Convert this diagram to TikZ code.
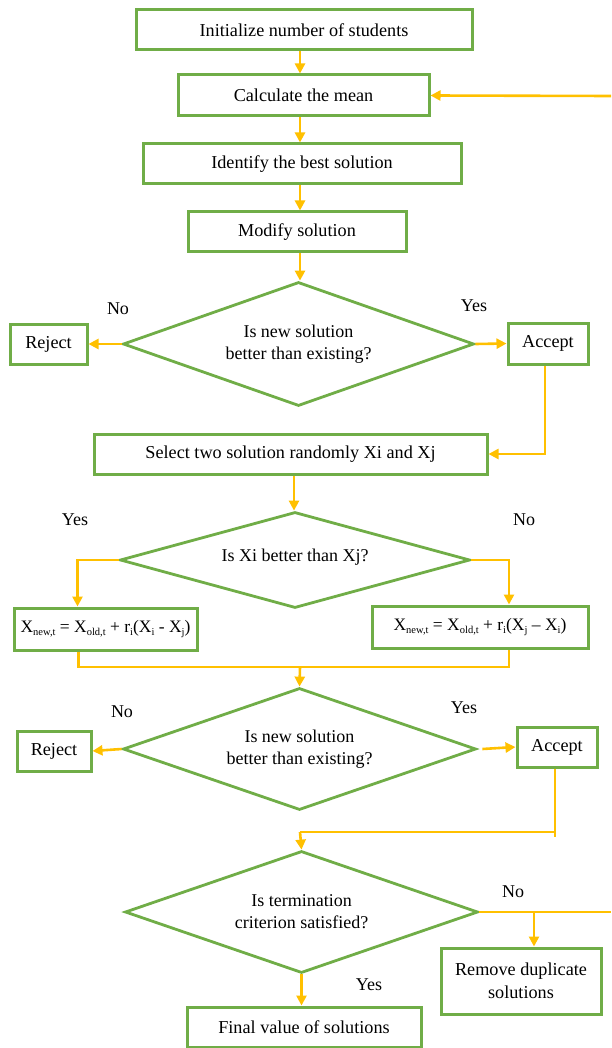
\documentclass[tikz,border=0pt]{standalone}
\usepackage{fontspec}
\setmainfont{Liberation Serif}
\usetikzlibrary{arrows.meta,shapes.geometric,calc}
\definecolor{boxgreen}{HTML}{70AD47}
\definecolor{arrorange}{HTML}{FFC000}
\newcommand{\lowsub}[1]{\raisebox{-2.5pt}{\fontsize{10.5}{10}\selectfont #1}}
\begin{document}
\begin{tikzpicture}[x=1pt,y=-1pt,
  procbox/.style={draw=boxgreen,line width=3pt,rectangle,inner sep=2pt,align=center,font=\fontsize{18.2}{23.5}\selectfont},
  decbox/.style={draw=boxgreen,line width=2.8pt,diamond,aspect=3,inner sep=0pt,align=center,font=\fontsize{18}{22}\selectfont},
  flow/.style={draw=arrorange,line width=2.6pt,-{Triangle[length=10pt,width=10pt]}},
  flowline/.style={draw=arrorange,line width=2.6pt},
  lbl/.style={font=\fontsize{18}{20}\selectfont},
  fbox/.style={font=\fontsize{17.5}{20}\selectfont}]
\useasboundingbox (0,0) rectangle (611,1048);
% process boxes
\node[procbox,minimum width=336pt,minimum height=40pt] (init) at (304,30) {Initialize number of students};
\node[procbox,minimum width=251pt,minimum height=41pt] (mean) at (303.5,95.5) {Calculate the mean};
\node[procbox,minimum width=318pt,minimum height=40pt] (best) at (302,164) {Identify the best solution};
\node[procbox,minimum width=218pt,minimum height=40pt] (modify) at (297,232) {Modify solution};
\node[decbox,minimum width=351pt,minimum height=124pt] (d1) at (298.5,344) {Is new solution\\better than existing?};
\node[procbox,minimum width=77pt,minimum height=40pt] (rej1) at (48.5,344) {Reject};
\node[procbox,minimum width=80pt,minimum height=41pt] (acc1) at (548,343.5) {Accept};
\node[procbox,minimum width=393pt,minimum height=40pt] (select) at (290.5,454) {Select two solution randomly Xi and Xj};
\node[decbox,minimum width=350pt,minimum height=96pt] (d2) at (295,560) {\raisebox{10pt}{Is Xi better than Xj?}};
\node[procbox,fbox,minimum width=183pt,minimum height=42pt] (f1) at (105.5,629) {X\lowsub{new,t} = X\lowsub{old,t} + r\lowsub{i}(X\lowsub{i} - X\lowsub{j})};
\node[procbox,fbox,minimum width=216pt,minimum height=42pt] (f2) at (480,627) {X\lowsub{new,t} = X\lowsub{old,t} + r\lowsub{i}(X\lowsub{j} -- X\lowsub{i})};
\node[decbox,minimum width=353pt,minimum height=122pt] (d3) at (299.5,749) {Is new solution\\better than existing?};
\node[procbox,minimum width=74pt,minimum height=40pt] (rej2) at (54,751) {Reject};
\node[procbox,minimum width=80pt,minimum height=40pt] (acc2) at (557,747) {Accept};
\node[decbox,minimum width=353pt,minimum height=122pt] (d4) at (301.5,912) {Is termination\\criterion satisfied?};
\node[procbox,minimum width=160pt,minimum height=66pt] (remove) at (521,981) {Remove duplicate\\solutions};
\node[procbox,minimum width=234pt,minimum height=40pt] (final) at (304,1027) {Final value of solutions};
% labels
\node[lbl] (l1) at (118,309) {No};
\node[lbl] (l2) at (474,306) {Yes};
\node[lbl] (l3) at (75,520) {Yes};
\node[lbl] (l4) at (524,520) {No};
\node[lbl] (l5) at (122,712) {No};
\node[lbl] (l6) at (464,708) {Yes};
\node[lbl] (l7) at (513,892) {No};
\node[lbl] (l8) at (369,985) {Yes};
% coordinates
\coordinate (loopin) at (611,96);
\coordinate (loopout) at (611,912);
\coordinate (join1) at (300,667);
\coordinate (join2) at (300,832);
% connectors
\draw[flow] ([xshift=-4pt]init.south) -- ([xshift=-4pt]init.south |- mean.north);
\draw[flow] ([xshift=-3.5pt]mean.south) -- ([xshift=-3.5pt]mean.south |- best.north);
\draw[flow] ([xshift=-2pt]best.south) -- ([xshift=-2pt]best.south |- modify.north);
\draw[flow] ([xshift=3pt]modify.south) -- ([xshift=3pt]modify.south |- d1.north);
\draw[flow] (loopin) -- (mean.east);
\draw[flow] (d1.west) -- (rej1.east);
\draw[flow] (d1.east) -- (acc1.west);
\draw[flow] ([xshift=-3pt]acc1.south) |- (select.east);
\draw[flow] ([xshift=3.5pt]select.south) -- ([xshift=3.5pt]select.south |- d2.north);
\draw[flow] (d2.west) -| ([xshift=-28pt]f1.north);
\draw[flow] (d2.east) -| ([xshift=29pt]f2.north);
\draw[flowline] ([xshift=-27pt]f1.south) |- (join1) -| ([xshift=29pt]f2.south);
\draw[flow] (join1) -- (d3.north);
\draw[flow] (d3.west) -- (rej2.east);
\draw[flow] ([xshift=5pt]d3.east) -- (acc2.west);
\draw[flowline] ([xshift=-2pt]acc2.south) -- ([xshift=-2pt,yshift=-5pt]acc2.south |- join2);
\draw[flowline] ([xshift=-2pt]acc2.south |- join2) -- (join2);
\draw[flow] (join2) -- (d4.north);
\draw[flowline] (d4.east) -- (loopout);
\draw[flow] ([xshift=13pt]d4.east -| remove.north) -- ([xshift=13pt]remove.north);
\draw[flow] (d4.south) -- (d4.south |- final.north);
\end{tikzpicture}
\end{document}
